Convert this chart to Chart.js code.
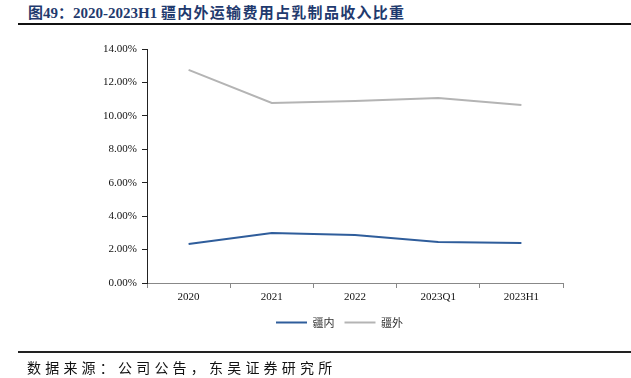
<!DOCTYPE html>
<html>
<head>
<meta charset="utf-8">
<script src="https://cdn.jsdelivr.net/npm/chart.js@4.4.0/dist/chart.umd.min.js"></script>
<style>
  html, body { margin:0; padding:0; background:#fff; }
  body { width:631px; height:378px; position:relative; overflow:hidden; }
  #title { position:absolute; left:28px; top:2px; font-family:"Liberation Serif","Noto Sans CJK SC",serif; font-weight:bold; font-size:15px; color:#1F3A6E; white-space:nowrap; line-height:20px; }
  #title .cjk { font-family:"Noto Sans CJK SC",sans-serif; letter-spacing:1.3px; font-size:15px; }
  #topline { position:absolute; left:18px; right:0; top:23px; height:2px; background:#111; }
  #botline { position:absolute; left:18px; right:0; top:351px; height:2px; background:#222; }
  #source { position:absolute; left:27px; top:357px; font-family:"Noto Sans CJK SC",sans-serif; font-size:14px; letter-spacing:4.2px; color:#111; white-space:nowrap; line-height:20px; }
  #wrap { position:absolute; left:0; top:0; width:631px; height:378px; }
  canvas { display:block; }
</style>
</head>
<body>
<div id="title">图49：2020-2023H1 <span class="cjk">疆内外运输费用占乳制品收入比重</span></div>
<div id="topline"></div>
<div id="wrap"><canvas id="c" width="631" height="378" style="width:631px;height:378px"></canvas></div>
<div id="botline"></div>
<div id="source">数据来源：公司公告，东吴证券研究所</div>
<script>
const categories = ["2020", "2021", "2022", "2023Q1", "2023H1"];
const seriesNames = ["疆内", "疆外"];
const inside = [2.33, 2.99, 2.87, 2.45, 2.39];
const outside = [12.75, 10.77, 10.89, 11.07, 10.65];
const yTicks = [0, 2, 4, 6, 8, 10, 12, 14];

const blue = "#2F5D9B";
const gray = "#B4B4B4";

const shiftLegend = {
  id: "shiftLegend",
  afterLayout(chart) {
    const lg = chart.legend;
    if (lg) { lg.left += 58; lg.right += 58; }
  }
};

new Chart(document.getElementById("c"), {
  type: "line",
  data: {
    labels: categories,
    datasets: [
      { label: seriesNames[0], data: inside, borderColor: blue, backgroundColor: blue, borderWidth: 2, pointRadius: 0, tension: 0 },
      { label: seriesNames[1], data: outside, borderColor: gray, backgroundColor: gray, borderWidth: 2, pointRadius: 0, tension: 0 }
    ]
  },
  plugins: [shiftLegend],
  options: {
    responsive: false,
    maintainAspectRatio: false,
    animation: false,
    devicePixelRatio: 1,
    layout: { padding: { left: 0, top: 49, right: 68, bottom: 40 } },
    plugins: {
      title: { display: false },
      tooltip: { enabled: false },
      legend: {
        position: "bottom",
        labels: {
          boxWidth: 31, boxHeight: 2, padding: 10,
          color: "#333",
          font: { family: "Noto Sans CJK SC", size: 11 },
          generateLabels: (chart) => {
            const items = Chart.defaults.plugins.legend.labels.generateLabels(chart);
            items.forEach(it => { it.strokeStyle = "rgba(0,0,0,0)"; it.lineWidth = 1; });
            return items;
          }
        }
      }
    },
    scales: {
      x: {
        offset: true,
        grid: { offset: true, drawOnChartArea: false, drawTicks: true, tickLength: 5, color: "#888" },
        border: { color: "#888", width: 1 },
        ticks: { color: "#111", padding: 3, font: { family: "Liberation Serif", size: 11 }, maxRotation: 0 },
        afterFit: s => { s.height = 24; }
      },
      y: {
        min: 0, max: 14,
        afterBuildTicks: s => { s.ticks = yTicks.map(v => ({ value: v })); },
        grid: { drawOnChartArea: false, drawTicks: true, tickLength: 5, color: "#222" },
        border: { color: "#222", width: 1 },
        ticks: { color: "#111", padding: 5, font: { family: "Liberation Serif", size: 11 }, callback: v => v.toFixed(2) + "%" },
        afterFit: s => { s.width = 147; }
      }
    }
  }
});
</script>
</body>
</html>
